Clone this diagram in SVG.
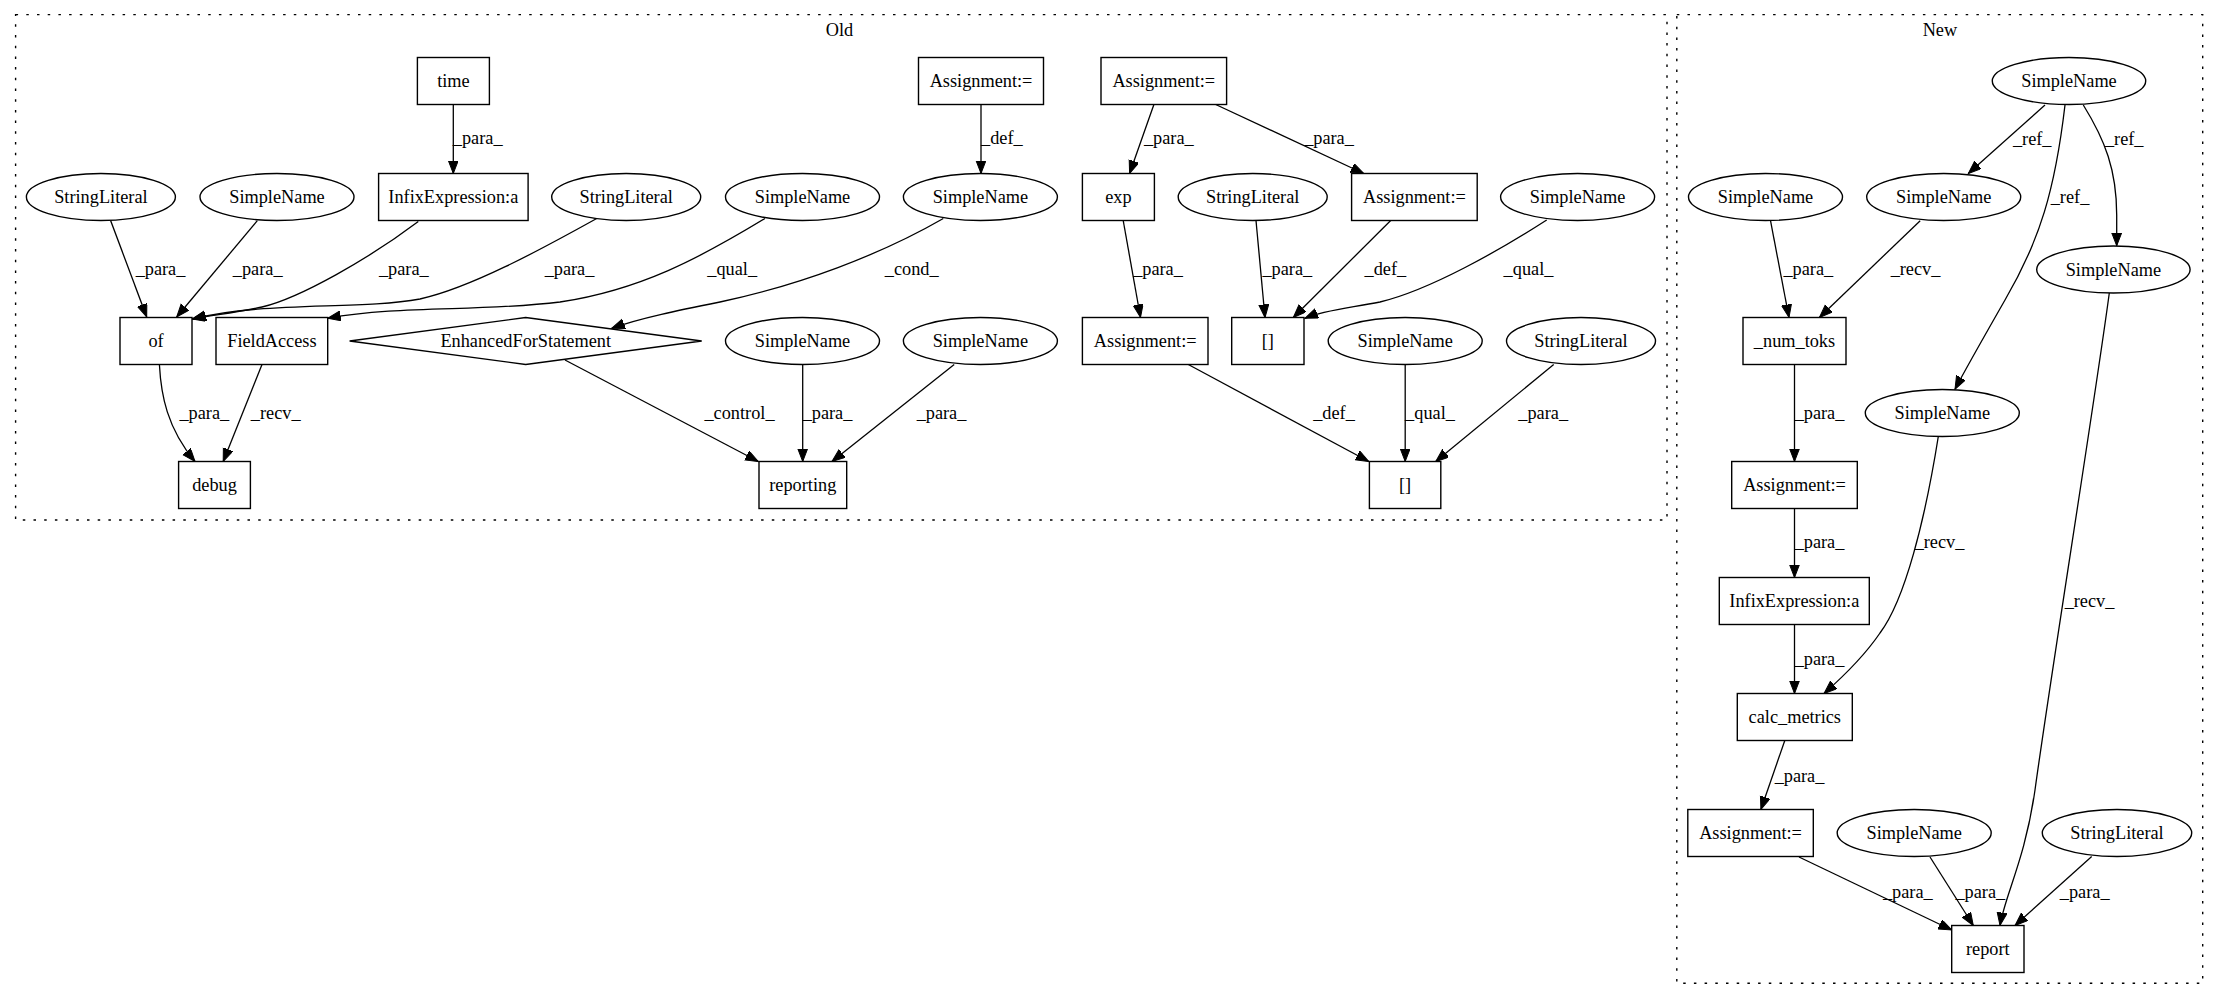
<svg xmlns="http://www.w3.org/2000/svg" width="2219" height="1000" viewBox="0 0 2219 1000">
<defs>
<marker id="ah" markerUnits="userSpaceOnUse" markerWidth="14" markerHeight="11" refX="13" refY="5" orient="auto">
<path d="M0,0 L13,5 L0,10 z" fill="#000" stroke="#000" stroke-width="1"/>
</marker>
<style>
text{font-family:"Liberation Serif","Times New Roman",serif;font-size:18.3px;fill:#000;text-anchor:middle}
.n rect,.n ellipse,.n polygon{fill:#fff;stroke:#000;stroke-width:1.4}
.cl{fill:none;stroke:#000;stroke-width:1.4;stroke-dasharray:2.5,8.2}
#edges path{fill:none;stroke:#000;stroke-width:1.3;marker-end:url(#ah)}
</style>
</defs>
<rect width="2219" height="1000" fill="#fff"/>
<g id="cluster_old">
<rect class="cl" x="15.6" y="14.6" width="1651.4" height="505.4"/>
<text x="839.4" y="36">Old</text>
</g>
<g id="cluster_new">
<rect class="cl" x="1676.8" y="14.6" width="525.9" height="968.7"/>
<text x="1939.9" y="36">New</text>
</g>
<g id="edges">
<path d="M453.3,104.5 L453.3,173.5"/>
<path d="M110.7,220.7 L146.7,317"/>
<path d="M257.3,220.7 L176.7,317"/>
<path d="M418.3,221.5 C370,258 300,298 262,307 C235,313 212,315 192,319"/>
<path d="M596.7,218.5 C540,250 470,288 420,299 C360,310 262,301 193,319"/>
<path d="M765,218.5 C700,258 640,290 560,302 C480,312 400,305 327.7,318.3"/>
<path d="M943.3,218.5 C880,255 800,285 720,302 C680,310 640,318 611.7,328.3"/>
<path d="M981,104.5 L981,173.5"/>
<path d="M1153.9,104.5 L1129.6,173.5"/>
<path d="M1215.7,104.5 L1363.7,173.5"/>
<path d="M1123.2,220.5 L1140.5,317.5"/>
<path d="M1256,220.5 L1265,317.5"/>
<path d="M1390.7,220.5 L1293.3,317.5"/>
<path d="M1546.7,220 C1500,250 1430,290 1380,302 C1350,308 1325,310 1305,318.3"/>
<path d="M159.4,364.5 C161,395 167,428 195,461.5"/>
<path d="M262,364.5 L223.2,461.5"/>
<path d="M565,360 L758.3,461.5"/>
<path d="M802.7,364.5 L802.7,461.5"/>
<path d="M954.2,364.5 L832,461.5"/>
<path d="M1188.3,364.5 L1368.8,461.5"/>
<path d="M1405.2,364.5 L1405.2,461.5"/>
<path d="M1553.7,364.5 L1435.7,461.5"/>
<path d="M2045,105 L1968.3,173.5"/>
<path d="M2083.3,105 C2105,140 2116.7,170 2116.7,215 L2116.7,245.8"/>
<path d="M2065,105 C2055,190 2040,240 2005,300 C1985,335 1965,370 1955,389.3"/>
<path d="M1770.5,220.7 L1789,317.5"/>
<path d="M1920.2,220.7 L1819.4,317.5"/>
<path d="M1794.5,364.5 L1794.5,461.5"/>
<path d="M1794.5,508.5 L1794.5,577.5"/>
<path d="M1938.3,436.5 C1925,520 1905,600 1880,633 C1865,655 1845,675 1824,693.5"/>
<path d="M2109.3,293 C2095,400 2050,680 2035,790 C2025,860 2005,895 2000,925.5"/>
<path d="M1794.5,624.5 L1794.5,693.5"/>
<path d="M1784.8,740.5 L1760.9,809.5"/>
<path d="M1799,857 L1951.7,930"/>
<path d="M1930,857 L1973.3,925.5"/>
<path d="M2091.7,856.5 L2015,925.5"/>
<text x="477.7" y="143.5">_para_</text>
<text x="160.5" y="275">_para_</text>
<text x="257.7" y="275">_para_</text>
<text x="403.8" y="275">_para_</text>
<text x="569.5" y="275">_para_</text>
<text x="732.2" y="275">_qual_</text>
<text x="911.7" y="275">_cond_</text>
<text x="1001.8" y="143.5">_def_</text>
<text x="1168.8" y="143.5">_para_</text>
<text x="1329" y="143.5">_para_</text>
<text x="1158" y="275">_para_</text>
<text x="1287.3" y="275">_para_</text>
<text x="1385.3" y="275">_def_</text>
<text x="1528.5" y="275">_qual_</text>
<text x="204.3" y="418.5">_para_</text>
<text x="275.7" y="418.5">_recv_</text>
<text x="739.5" y="418.5">_control_</text>
<text x="827.5" y="418.5">_para_</text>
<text x="941.5" y="418.5">_para_</text>
<text x="1334" y="418.5">_def_</text>
<text x="1430" y="418.5">_qual_</text>
<text x="1543.2" y="418.5">_para_</text>
<text x="2032.2" y="145">_ref_</text>
<text x="2124.2" y="145">_ref_</text>
<text x="2070" y="203.3">_ref_</text>
<text x="1808.3" y="275">_para_</text>
<text x="1915.5" y="275">_recv_</text>
<text x="1819.5" y="419">_para_</text>
<text x="1819.5" y="548.3">_para_</text>
<text x="1939.5" y="548.3">_recv_</text>
<text x="2089.5" y="606.7">_recv_</text>
<text x="1819.5" y="665">_para_</text>
<text x="1799.5" y="781.7">_para_</text>
<text x="1907.8" y="898.3">_para_</text>
<text x="1980.3" y="898.3">_para_</text>
<text x="2084.7" y="898.3">_para_</text>
</g>
<g id="o_time" class="n"><rect x="417.4" y="57.5" width="72" height="47"/><text x="453.4" y="87">time</text></g>
<g id="o_asg1" class="n"><rect x="918.5" y="57.5" width="125" height="47"/><text x="981" y="87">Assignment:=</text></g>
<g id="o_asg2" class="n"><rect x="1101" y="57.5" width="125.6" height="47"/><text x="1163.8" y="87">Assignment:=</text></g>
<g id="o_sl1" class="n"><ellipse cx="100.9" cy="197" rx="74.5" ry="23.5"/><text x="100.9" y="203">StringLiteral</text></g>
<g id="o_sn1" class="n"><ellipse cx="277" cy="197" rx="77" ry="23.5"/><text x="277" y="203">SimpleName</text></g>
<g id="o_infix" class="n"><rect x="378.6" y="173.5" width="149.5" height="47"/><text x="453.3" y="203">InfixExpression:a</text></g>
<g id="o_sl2" class="n"><ellipse cx="626.2" cy="197" rx="74.5" ry="23.5"/><text x="626.2" y="203">StringLiteral</text></g>
<g id="o_sn2" class="n"><ellipse cx="802.5" cy="197" rx="77" ry="23.5"/><text x="802.5" y="203">SimpleName</text></g>
<g id="o_sn3" class="n"><ellipse cx="980.4" cy="197" rx="77" ry="23.5"/><text x="980.4" y="203">SimpleName</text></g>
<g id="o_exp" class="n"><rect x="1082.4" y="173.5" width="72" height="47"/><text x="1118.4" y="203">exp</text></g>
<g id="o_sl3" class="n"><ellipse cx="1252.7" cy="197" rx="74.5" ry="23.5"/><text x="1252.7" y="203">StringLiteral</text></g>
<g id="o_asg3" class="n"><rect x="1351.6" y="173.5" width="125.6" height="47"/><text x="1414.4" y="203">Assignment:=</text></g>
<g id="o_sn4" class="n"><ellipse cx="1577.6" cy="197" rx="77" ry="23.5"/><text x="1577.6" y="203">SimpleName</text></g>
<g id="o_of" class="n"><rect x="120" y="317.5" width="72" height="47"/><text x="156" y="347">of</text></g>
<g id="o_fieldaccess" class="n"><rect x="216" y="317.5" width="111.7" height="47"/><text x="271.9" y="347">FieldAccess</text></g>
<g id="o_efs" class="n"><polygon points="349.6,341 525.7,317.5 701.7,341 525.7,364.5"/><text x="525.7" y="347">EnhancedForStatement</text></g>
<g id="o_sn5" class="n"><ellipse cx="802.5" cy="341" rx="77" ry="23.5"/><text x="802.5" y="347">SimpleName</text></g>
<g id="o_sn6" class="n"><ellipse cx="980.4" cy="341" rx="77" ry="23.5"/><text x="980.4" y="347">SimpleName</text></g>
<g id="o_asg4" class="n"><rect x="1082.4" y="317.5" width="125.6" height="47"/><text x="1145.2" y="347">Assignment:=</text></g>
<g id="o_idx1" class="n"><rect x="1231.7" y="317.5" width="72.3" height="47"/><text x="1267.8" y="347">[]</text></g>
<g id="o_sn7" class="n"><ellipse cx="1405.2" cy="341" rx="77" ry="23.5"/><text x="1405.2" y="347">SimpleName</text></g>
<g id="o_sl4" class="n"><ellipse cx="1581" cy="341" rx="74.5" ry="23.5"/><text x="1581" y="347">StringLiteral</text></g>
<g id="o_debug" class="n"><rect x="178.6" y="461.5" width="71.8" height="47"/><text x="214.5" y="491">debug</text></g>
<g id="o_reporting" class="n"><rect x="759" y="461.5" width="87.7" height="47"/><text x="802.8" y="491">reporting</text></g>
<g id="o_idx2" class="n"><rect x="1369.4" y="461.5" width="71.4" height="47"/><text x="1405.1" y="491">[]</text></g>
<g id="n_sn_top" class="n"><ellipse cx="2069" cy="81" rx="76.7" ry="23.5"/><text x="2069" y="87">SimpleName</text></g>
<g id="n_sn_l" class="n"><ellipse cx="1765.5" cy="197" rx="77" ry="23.5"/><text x="1765.5" y="203">SimpleName</text></g>
<g id="n_sn_m" class="n"><ellipse cx="1943.7" cy="197" rx="77" ry="23.5"/><text x="1943.7" y="203">SimpleName</text></g>
<g id="n_sn_r" class="n"><ellipse cx="2113.4" cy="269.5" rx="76.7" ry="23.5"/><text x="2113.4" y="275.5">SimpleName</text></g>
<g id="n_numtoks" class="n"><rect x="1743" y="317.5" width="103" height="47"/><text x="1794.5" y="347">_num_toks</text></g>
<g id="n_sn5" class="n"><ellipse cx="1942.3" cy="413" rx="77" ry="23.5"/><text x="1942.3" y="419">SimpleName</text></g>
<g id="n_asg1" class="n"><rect x="1731.7" y="461.5" width="125.6" height="47"/><text x="1794.5" y="491">Assignment:=</text></g>
<g id="n_infix" class="n"><rect x="1719.3" y="577.5" width="150" height="47"/><text x="1794.3" y="607">InfixExpression:a</text></g>
<g id="n_calc" class="n"><rect x="1737.3" y="693.5" width="115" height="47"/><text x="1794.8" y="723">calc_metrics</text></g>
<g id="n_asg2" class="n"><rect x="1687.8" y="809.5" width="125.5" height="47"/><text x="1750.5" y="839">Assignment:=</text></g>
<g id="n_sn8" class="n"><ellipse cx="1914.2" cy="833" rx="77" ry="23.5"/><text x="1914.2" y="839">SimpleName</text></g>
<g id="n_sl" class="n"><ellipse cx="2117" cy="833" rx="74.7" ry="23.5"/><text x="2117" y="839">StringLiteral</text></g>
<g id="n_report" class="n"><rect x="1951.7" y="925.5" width="72.3" height="47"/><text x="1987.8" y="955">report</text></g>
</svg>
